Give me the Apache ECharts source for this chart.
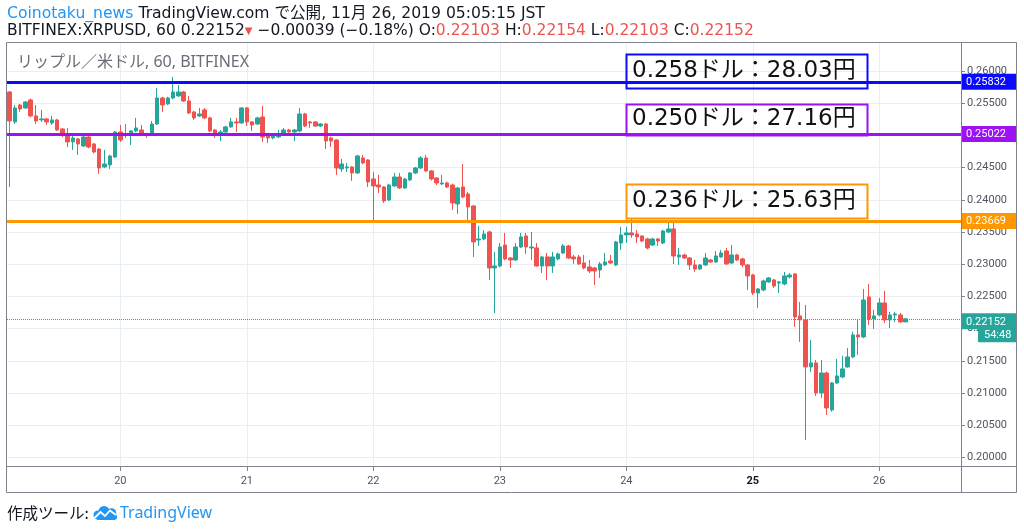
<!DOCTYPE html>
<html><head><meta charset="utf-8">
<script src="https://cdn.jsdelivr.net/npm/echarts@6/dist/echarts.min.js"></script>
<style>html,body{margin:0;padding:0;background:#fff}#c{width:1024px;height:530px}</style>
</head><body><div id="c"></div>
<script>
// ---- data ----
const startDay = 19, startHour = 3, slotCount = 181;
const categories = [];
for (let i = 0; i < slotCount; i++) {
  const h = startHour + i;
  const d = startDay + Math.floor(h / 24);
  const hh = String(h % 24).padStart(2, '0');
  categories.push(d + ' ' + hh + ':00');
}
const openVals = [0.25674,0.25209,0.25472,0.25426,0.25550,0.25302,0.25240,0.25255,0.25193,0.25240,
0.25100,0.25022,0.24898,0.24944,0.24836,0.24975,0.24867,0.24789,0.24510,0.24541,
0.24665,0.25053,0.25022,0.25007,0.25069,0.25084,0.25022,0.25022,0.25177,0.25581,
0.25488,0.25581,0.25612,0.25674,0.25534,0.25364,0.25302,0.25395,0.25271,0.25084,
0.25022,0.25053,0.25131,0.25209,0.25193,0.25426,0.25209,0.25177,0.25286,0.25007,
0.24960,0.24975,0.25038,0.25084,0.25053,0.25069,0.25333,0.25209,0.25209,0.25146,
0.25177,0.24960,0.24929,0.24479,0.24494,0.24510,0.24417,0.24649,0.24618,0.24323,
0.24230,0.24199,0.23997,0.24215,0.24354,0.24183,0.24308,0.24417,0.24494,0.24649,
0.24448,0.24339,0.24246,0.24261,0.24230,0.23935,0.24199,0.24090,0.23904,0.23376,
0.23391,0.23500,0.22941,0.22972,0.23298,0.23096,0.23065,0.23267,0.23438,0.23252,
0.23252,0.22972,0.23112,0.22972,0.23081,0.23174,0.23283,0.23112,0.23112,0.23019,
0.22957,0.22941,0.22910,0.22988,0.23050,0.22988,0.23329,0.23454,0.23485,0.23469,
0.23438,0.23391,0.23298,0.23391,0.23329,0.23500,0.23547,0.23112,0.23143,0.23096,
0.22988,0.22925,0.22988,0.23065,0.23034,0.23112,0.23205,0.23019,0.23143,0.23081,
0.22988,0.22832,0.22553,0.22599,0.22724,0.22755,0.22708,0.22693,0.22801,0.22848,
0.22196,0.22134,0.21404,0.21466,0.21000,0.21310,0.20736,0.21155,0.21248,0.21404,
0.21559,0.21901,0.21870,0.22491,0.22149,0.22211,0.22398,0.22134,0.22211,0.22211,
0.22103];
const closeVals = [0.25224,0.25426,0.25410,0.25519,0.25302,0.25224,0.25255,0.25209,0.25240,0.25084,
0.25022,0.24898,0.24960,0.24867,0.24975,0.24820,0.24742,0.24494,0.24556,0.24680,
0.25053,0.24929,0.25007,0.25069,0.25115,0.25022,0.25007,0.25177,0.25581,0.25472,
0.25581,0.25674,0.25674,0.25534,0.25348,0.25271,0.25333,0.25271,0.25069,0.25007,
0.25053,0.25131,0.25209,0.25193,0.25426,0.25209,0.25162,0.25271,0.24975,0.24960,
0.24991,0.25022,0.25084,0.25053,0.25084,0.25333,0.25146,0.25193,0.25146,0.25177,
0.24913,0.24913,0.24494,0.24556,0.24510,0.24417,0.24680,0.24572,0.24277,0.24215,
0.24199,0.23982,0.24230,0.24354,0.24183,0.24323,0.24417,0.24494,0.24649,0.24448,
0.24323,0.24261,0.24261,0.24199,0.23951,0.24183,0.24044,0.23889,0.23345,0.23391,
0.23469,0.22941,0.22972,0.23267,0.23081,0.23065,0.23267,0.23423,0.23267,0.23267,
0.22972,0.23112,0.22972,0.23112,0.23159,0.23283,0.23096,0.23081,0.23003,0.22941,
0.22894,0.22894,0.23003,0.23034,0.23019,0.23345,0.23454,0.23485,0.23454,0.23423,
0.23360,0.23252,0.23391,0.23360,0.23516,0.23547,0.23127,0.23143,0.23096,0.22988,
0.22925,0.22988,0.23096,0.23034,0.23127,0.23174,0.23003,0.23143,0.23065,0.22988,
0.22817,0.22553,0.22615,0.22739,0.22786,0.22661,0.22724,0.22817,0.22832,0.22180,
0.22134,0.21404,0.21466,0.21000,0.21310,0.20767,0.21155,0.21264,0.21373,0.21559,
0.21901,0.21870,0.22444,0.22149,0.22196,0.22398,0.22134,0.22211,0.22227,0.22103,
0.22152];
const lowVals = [0.24199,0.25177,0.25364,0.25410,0.25280,0.25177,0.25209,0.25162,0.25162,0.25069,
0.24975,0.24820,0.24773,0.24696,0.24820,0.24800,0.24720,0.24401,0.24490,0.24479,
0.24650,0.24898,0.24960,0.24851,0.25053,0.25007,0.24960,0.25000,0.25162,0.25364,
0.25470,0.25560,0.25600,0.25520,0.25330,0.25240,0.25286,0.25250,0.25050,0.24960,
0.24913,0.25040,0.25120,0.25053,0.25180,0.25146,0.25069,0.25160,0.24898,0.24882,
0.24940,0.24960,0.25020,0.25040,0.24913,0.25050,0.25130,0.25115,0.25130,0.25130,
0.24789,0.24820,0.24386,0.24432,0.24432,0.24292,0.24400,0.24550,0.24199,0.23687,
0.24106,0.23951,0.23980,0.24200,0.24170,0.24170,0.24290,0.24400,0.24480,0.24430,
0.24300,0.24230,0.24230,0.24183,0.23842,0.23780,0.24020,0.23640,0.23112,0.23283,
0.23370,0.22755,0.22242,0.22950,0.23060,0.22941,0.23050,0.23250,0.23159,0.23065,
0.22960,0.22863,0.22755,0.22863,0.23060,0.23160,0.23080,0.23003,0.22990,0.22920,
0.22863,0.22677,0.22786,0.22970,0.23000,0.22970,0.23221,0.23329,0.23407,0.23329,
0.23340,0.23230,0.23280,0.23283,0.23310,0.23480,0.23003,0.22988,0.23080,0.22910,
0.22879,0.22910,0.22970,0.23020,0.23019,0.23100,0.22990,0.23000,0.23050,0.22957,
0.22599,0.22520,0.22320,0.22580,0.22710,0.22630,0.22553,0.22670,0.22780,0.22025,
0.21792,0.20270,0.21326,0.20953,0.20922,0.20658,0.20710,0.21140,0.21230,0.21390,
0.21540,0.21590,0.21850,0.22056,0.21994,0.22190,0.22087,0.22010,0.22103,0.22090,
0.22103];
const highVals = [0.25690,0.25472,0.25488,0.25530,0.25570,0.25472,0.25395,0.25270,0.25302,0.25255,
0.25110,0.25115,0.25038,0.24960,0.25000,0.24990,0.24880,0.24800,0.24773,0.24700,
0.25070,0.25162,0.25177,0.25080,0.25271,0.25162,0.25040,0.25224,0.25736,0.25600,
0.25600,0.25907,0.25783,0.25690,0.25612,0.25380,0.25426,0.25426,0.25290,0.25100,
0.25084,0.25150,0.25271,0.25271,0.25440,0.25440,0.25220,0.25290,0.25457,0.25020,
0.25010,0.25084,0.25115,0.25100,0.25100,0.25426,0.25350,0.25224,0.25220,0.25190,
0.25190,0.24980,0.24940,0.24634,0.24572,0.24520,0.24700,0.24696,0.24630,0.24432,
0.24386,0.24210,0.24250,0.24417,0.24417,0.24340,0.24430,0.24510,0.24680,0.24696,
0.24460,0.24350,0.24386,0.24280,0.24250,0.24200,0.24556,0.24121,0.23920,0.23593,
0.23530,0.23520,0.23190,0.23329,0.23485,0.23110,0.23329,0.23485,0.23485,0.23500,
0.23329,0.23130,0.23174,0.23190,0.23180,0.23314,0.23300,0.23143,0.23143,0.23143,
0.23065,0.22960,0.23034,0.23174,0.23143,0.23360,0.23578,0.23578,0.23702,0.23530,
0.23450,0.23410,0.23410,0.23410,0.23530,0.23640,0.23640,0.23252,0.23160,0.23110,
0.23065,0.23000,0.23174,0.23080,0.23205,0.23221,0.23252,0.23298,0.23160,0.23100,
0.23000,0.22850,0.22630,0.22760,0.22800,0.22770,0.22740,0.22879,0.22863,0.22860,
0.22413,0.22367,0.21823,0.21512,0.21512,0.21330,0.21170,0.21528,0.21575,0.21700,
0.21950,0.22149,0.22615,0.22693,0.22289,0.22476,0.22584,0.22260,0.22260,0.22242,
0.22154];
const yTicks = [0.200,0.205,0.210,0.215,0.220,0.225,0.230,0.235,0.240,0.245,0.250,0.255,0.260];
const levelValues = [0.25832, 0.25022, 0.23669];
const levelNotes = ['0.258ドル：28.03円', '0.250ドル：27.16円', '0.236ドル：25.63円'];
const lastPrice = 0.22152;
const countdown = '54:48';
const boldDay = '25';
const headerLine1 = ['Coinotaku_news', ' TradingView.com で公開, 11月 26, 2019 05:05:15 JST'];
const symbolText = 'BITFINEX:XRPUSD, 60';
const changeText = '−0.00039 (−0.18%)';
const paneTitle = 'リップル／米ドル, 60, BITFINEX';
const footerText = ['作成ツール:', 'TradingView'];

// ---- styles ----
const UP = '#26a69a', DOWN = '#ef5350';
const levelColors = ['#0a0aff', '#9d12f5', '#ff9800'];
const gridColor = '#e9eef3';
const frameColor = '#7f828c';
const FONT = '"Noto Sans", "Noto Sans CJK JP", sans-serif';
const HFONT = '"DejaVu Sans", "Noto Sans CJK JP", sans-serif';
const CJK = '"Noto Sans CJK JP", sans-serif';

const candleData = openVals.map((o, i) => [o, closeVals[i], lowVals[i], highVals[i]]);
const n = openVals.length - 1;
const dayCats = categories.filter(c => c.endsWith(' 00:00'));

const chart = echarts.init(document.getElementById('c'), null, {renderer: 'canvas'});

const levelLines = levelValues.map((v, i) => ({
  yAxis: v,
  lineStyle: {color: levelColors[i], width: 3, type: 'solid'},
  label: {backgroundColor: levelColors[i]}
}));
levelLines.push({
  yAxis: lastPrice,
  lineStyle: {color: UP, width: 1, type: 'dotted'},
  label: {
    backgroundColor: 'transparent', padding: [18, 0, 0, 0],
    formatter: '{a|' + lastPrice.toFixed(5) + '}\n{s|}{b|' + countdown + '}',
    rich: {
      a: {backgroundColor: UP, color: '#fff', fontSize: 11, fontFamily: 'Roboto', width: 46, padding: [3, 5, 2, 5], lineHeight: 13},
      s: {width: 17, lineHeight: 13, padding: [3, 0, 2, 0]},
      b: {backgroundColor: UP, color: '#fff', fontSize: 11, fontFamily: 'Roboto', padding: [3, 5, 2, 6], lineHeight: 13}
    }
  }
});

const boxTops = [54, 104, 184];
const boxHeights = [34, 31, 34];
const graphics = [];
// frame
graphics.push({type: 'rect', z: 50, silent: true, shape: {x: 6.5, y: 42.5, width: 1010, height: 450}, style: {fill: 'none', stroke: frameColor, lineWidth: 1}});
graphics.push({type: 'line', z: 50, silent: true, shape: {x1: 961.5, y1: 42, x2: 961.5, y2: 493}, style: {stroke: frameColor, lineWidth: 1}});
graphics.push({type: 'line', z: 50, silent: true, shape: {x1: 7, y1: 466.5, x2: 1017, y2: 466.5}, style: {stroke: frameColor, lineWidth: 1}});
// header
graphics.push({type: 'text', z: 60, x: 7, y: 14, style: {
  text: '{a|' + headerLine1[0] + '}{b|' + headerLine1[1] + '}',
  verticalAlign: 'middle',
  rich: {a: {fill: '#2196f3', font: '15.6px ' + HFONT}, b: {fill: '#131722', font: '15.6px ' + HFONT}}
}});
const f5 = v => v.toFixed(5);
graphics.push({type: 'text', z: 60, x: 7, y: 31, style: {
  text: '{k|' + symbolText + ' ' + f5(closeVals[n]) + '}{t|▼}{k| ' + changeText + ' O:}{r|' + f5(openVals[n]) + '}{k| H:}{r|' + f5(highVals[n]) + '}{k| L:}{r|' + f5(lowVals[n]) + '}{k| C:}{r|' + f5(closeVals[n]) + '}',
  verticalAlign: 'middle',
  rich: {k: {fill: '#131722', font: '15.5px ' + HFONT}, r: {fill: DOWN, font: '15.5px ' + HFONT}, t: {fill: DOWN, font: '10px "DejaVu Sans"'}}
}});
graphics.push({type: 'text', z: 60, x: 17, y: 62, style: {text: paneTitle, fill: '#6a6d78', font: '16px ' + FONT, verticalAlign: 'middle'}});
// annotation boxes
levelNotes.forEach((t, i) => {
  graphics.push({type: 'rect', z: 60, silent: true, shape: {x: 626.5, y: boxTops[i] + 0.5, width: 241, height: boxHeights[i]}, style: {fill: 'none', stroke: levelColors[i], lineWidth: 2}});
  graphics.push({type: 'text', z: 61, x: 632, y: boxTops[i] + boxHeights[i] / 2, style: {text: t, fill: '#111', font: '23px ' + HFONT, verticalAlign: 'middle'}});
});
// footer
graphics.push({type: 'text', z: 60, x: 7, y: 513, style: {text: footerText[0], fill: '#131722', font: '15.5px ' + CJK, verticalAlign: 'middle'}});
graphics.push({type: 'group', z: 60, children: [
  {type: 'circle', shape: {cx: 104, cy: 511.5, r: 5.5}, style: {fill: '#2196f3'}},
  {type: 'circle', shape: {cx: 111.5, cy: 513, r: 4.8}, style: {fill: '#2196f3'}},
  {type: 'circle', shape: {cx: 98, cy: 515, r: 4.5}, style: {fill: '#2196f3'}},
  {type: 'rect', shape: {x: 96, y: 514, width: 21, height: 6, r: 3}, style: {fill: '#2196f3'}},
  {type: 'polyline', shape: {points: [[94.5, 518], [100.5, 512], [105, 516], [110, 510.5], [116, 515]]}, style: {stroke: '#fff', lineWidth: 1.8, fill: null}}
]});
graphics.push({type: 'text', z: 60, x: 120, y: 513, style: {text: footerText[1], fill: '#2196f3', font: '16px ' + FONT, verticalAlign: 'middle'}});

const option = {
  animation: false,
  backgroundColor: '#fff',
  grid: {left: 7, right: 63, top: 42, bottom: 63, containLabel: false},
  xAxis: {
    type: 'category', data: categories, boundaryGap: true,
    axisLine: {show: false},
    axisTick: {show: true, alignWithLabel: true, length: 4, interval: (i, v) => v.endsWith(' 00:00'), lineStyle: {color: frameColor}},
    axisLabel: {
      interval: (i, v) => v.endsWith(' 00:00'), margin: 9,
      color: '#50535e', fontSize: 11, fontFamily: 'Roboto',
      formatter: v => { const d = v.split(' ')[0]; return d === boldDay ? '{b|' + d + '}' : d; },
      rich: {b: {fontWeight: 'bold', color: '#131722', fontSize: 11, fontFamily: 'Roboto'}}
    },
    splitLine: {show: false}
  },
  yAxis: {
    type: 'value', position: 'right', min: 0.1985, max: 0.2645, splitNumber: 13, scale: true,
    axisLine: {show: false},
    axisTick: {show: true, length: 4, lineStyle: {color: frameColor}, customValues: yTicks},
    axisLabel: {color: '#50535e', fontSize: 11, fontFamily: 'Roboto', margin: 6, formatter: v => v.toFixed(5), customValues: yTicks},
    splitLine: {show: true, lineStyle: {color: gridColor, width: 1}}
  },
  graphic: graphics,
  series: [
    {
      type: 'line', data: [], silent: true,
      markLine: {
        silent: true, symbol: 'none', z: 1, animation: false,
        label: {show: false},
        lineStyle: {color: gridColor, width: 1, type: 'solid'},
        data: dayCats.map(c => ({xAxis: c}))
      }
    },
    {
      type: 'candlestick', data: candleData, barWidth: '76%', z: 2,
      itemStyle: {color: UP, color0: DOWN, borderColor: UP, borderColor0: DOWN, borderWidth: 1},
      markLine: {
        silent: true, symbol: 'none', animation: false, precision: 5,
        label: {show: true, position: 'end', distance: 0, color: '#fff', fontSize: 11, fontFamily: 'Roboto', padding: [3, 5, 2, 5], width: 46, formatter: p => p.value.toFixed(5)},
        data: levelLines
      }
    }
  ]
};
chart.setOption(option);
</script>
</body></html>
